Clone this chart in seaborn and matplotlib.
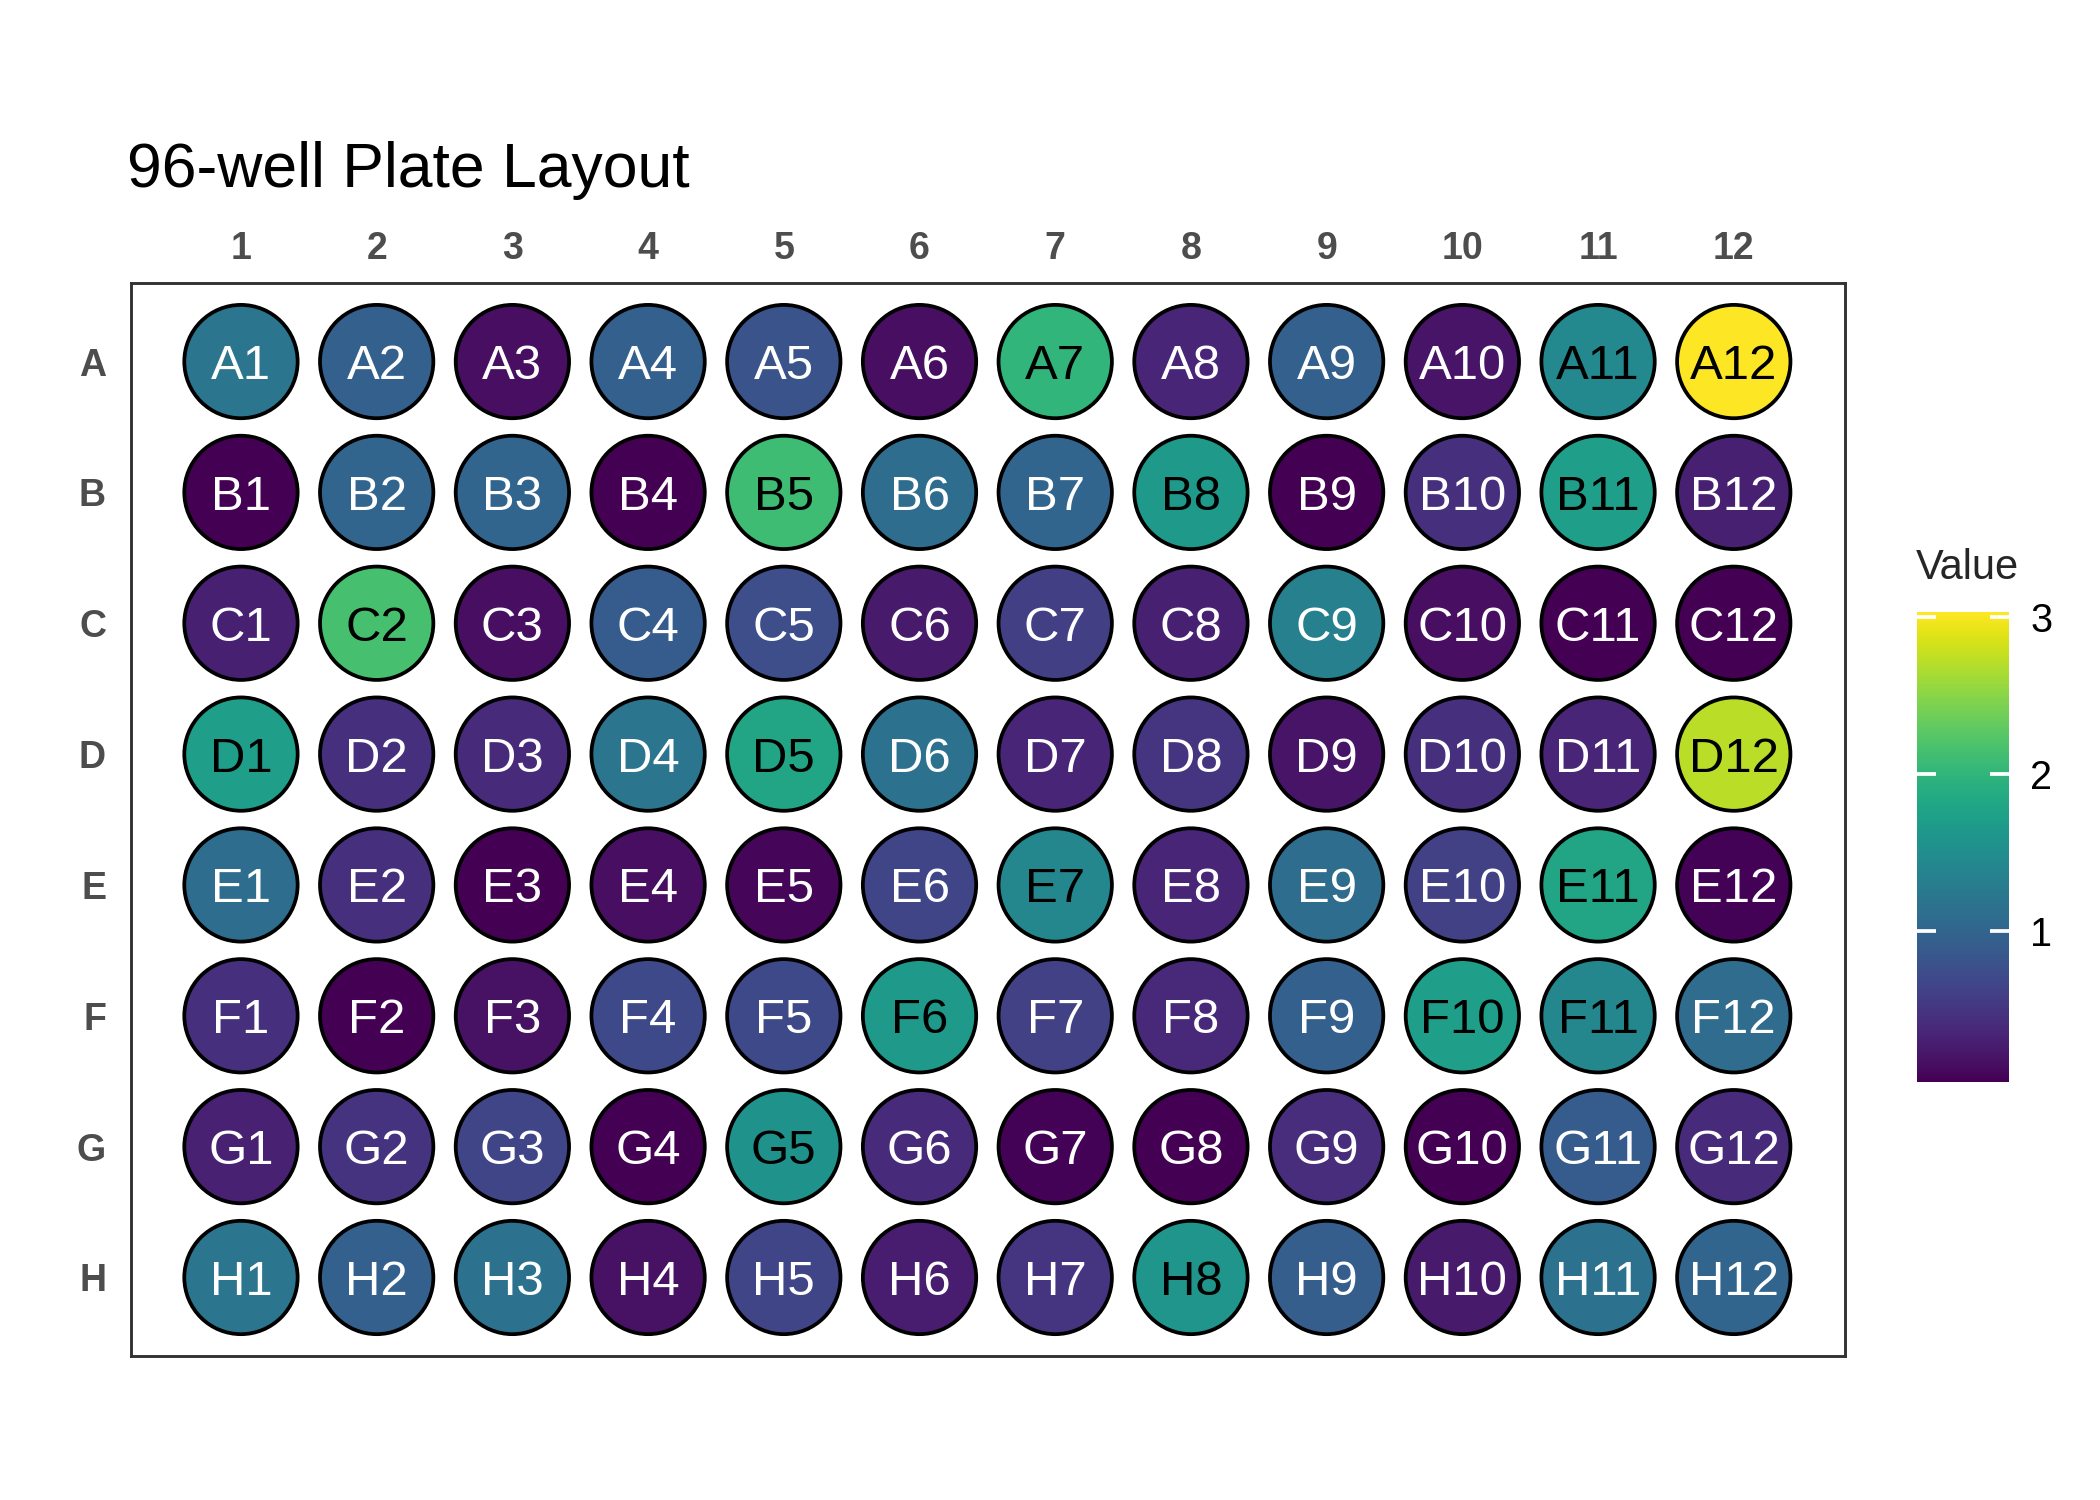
import numpy as np
import pandas as pd
import matplotlib
matplotlib.use("Agg")
import matplotlib.pyplot as plt
import seaborn as sns

# plate layout
rows = ["A", "B", "C", "D", "E", "F", "G", "H"]
cols = [1, 2, 3, 4, 5, 6, 7, 8, 9, 10, 11, 12]

# well values, one list per row
row_A = [1.20, 0.95, 0.15, 0.95, 0.80, 0.15, 2.00, 0.35, 0.95, 0.20, 1.45, 3.03]
row_B = [0.05, 1.00, 1.00, 0.05, 2.10, 1.10, 1.00, 1.65, 0.05, 0.45, 1.70, 0.30]
row_C = [0.30, 2.15, 0.15, 0.90, 0.75, 0.25, 0.60, 0.30, 1.33, 0.15, 0.05, 0.05]
row_D = [1.70, 0.45, 0.40, 1.20, 1.80, 1.15, 0.35, 0.50, 0.20, 0.45, 0.35, 2.72]
row_E = [1.10, 0.45, 0.05, 0.15, 0.08, 0.65, 1.42, 0.35, 1.10, 0.62, 1.80, 0.06]
row_F = [0.45, 0.04, 0.18, 0.70, 0.70, 1.65, 0.62, 0.38, 0.95, 1.70, 1.42, 1.08]
row_G = [0.32, 0.48, 0.65, 0.05, 1.55, 0.40, 0.06, 0.05, 0.42, 0.05, 0.90, 0.40]
row_H = [1.20, 0.95, 1.15, 0.18, 0.65, 0.28, 0.50, 1.60, 0.92, 0.25, 1.15, 1.00]
values = [row_A, row_B, row_C, row_D, row_E, row_F, row_G, row_H]

cbar_ticks = [1, 2, 3]

# long format table
recs = []
for i, r in enumerate(rows):
    for j, c in enumerate(cols):
        recs.append({"row": r, "y": i + 1, "col": c, "value": values[i][j],
                     "well": f"{r}{c}"})
df = pd.DataFrame(recs)

vmin, vmax = df["value"].min(), df["value"].max()

sns.set_style("white")
plt.rcParams["font.family"] = ["Liberation Sans", "DejaVu Sans"]

fig = plt.figure(figsize=(7, 5), dpi=300)
ax = fig.add_axes([0.0624, 0.096, 0.8162, 0.7153])

sns.scatterplot(data=df, x="col", y="y", hue="value", palette="viridis",
                hue_norm=(vmin, vmax), s=740, edgecolor="black",
                linewidth=0.9, legend=False, ax=ax, zorder=3)

for _, d in df.iterrows():
    tc = "black" if d["value"] > 1.38 else "white"
    ax.text(d["col"], d["y"], d["well"], ha="center", va="center_baseline",
            fontsize=11.8, color=tc, zorder=4)

ax.set_xlim(0.19, 12.82)
ax.set_ylim(8.6, 0.4)
ax.xaxis.tick_top()
ax.set_xticks(cols)
ax.set_xticklabels([str(c) for c in cols], fontweight="bold", fontsize=9,
                   color="#4d4d4d")
ax.set_yticks(range(1, 9))
ax.set_yticklabels(rows, fontweight="bold", fontsize=9, color="#4d4d4d")
ax.tick_params(axis="x", length=0, pad=3.8)
ax.tick_params(axis="y", length=0, pad=6)
ax.set_xlabel("")
ax.set_ylabel("")
for sp in ax.spines.values():
    sp.set_color("#333333")
    sp.set_linewidth(0.7)

fig.text(0.0605, 0.886, "96-well Plate Layout", fontsize=15,
         ha="left", va="center", color="black")

# colour bar
cax = fig.add_axes([0.913, 0.279, 0.0438, 0.3127])
sm = plt.cm.ScalarMappable(cmap="viridis",
                           norm=plt.Normalize(vmin=vmin, vmax=vmax))
cb = fig.colorbar(sm, cax=cax, ticks=cbar_ticks)
cb.outline.set_visible(False)
cb.ax.set_axisbelow(False)
cb.ax.tick_params(direction="in", length=4.5, width=0.9, color="white",
                  left=True, right=True, labelsize=9.5, pad=5,
                  labelcolor="black")
cb.ax.set_yticklabels([str(t) for t in cbar_ticks])
cax.set_title("Value", fontsize=10, loc="left", pad=8, x=-0.02)

fig.savefig("out.png", dpi=300)
